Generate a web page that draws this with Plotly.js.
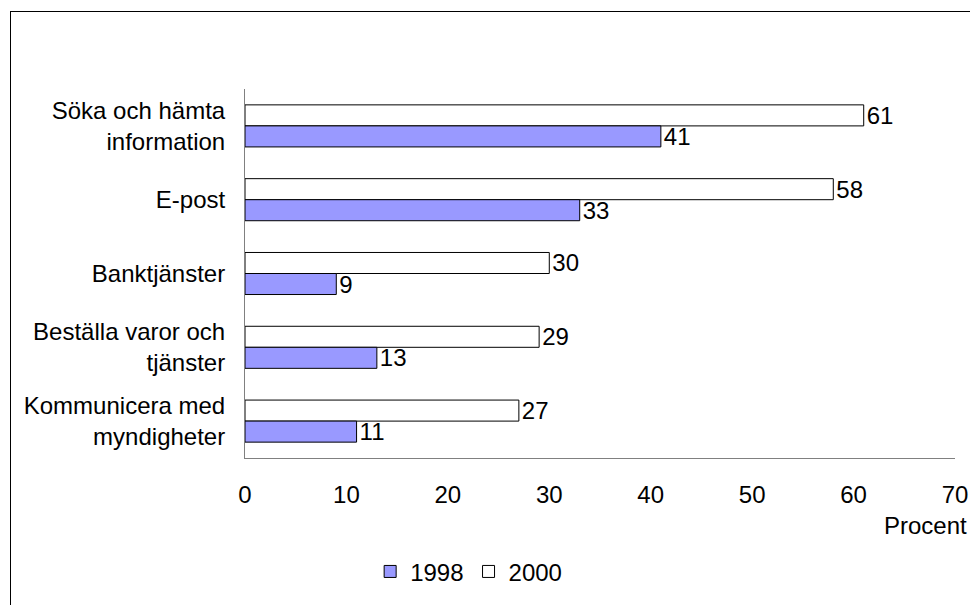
<!DOCTYPE html>
<html>
<head>
<meta charset="utf-8">
<script src="https://cdn.plot.ly/plotly-3.0.1.min.js"></script>
<style>
html,body{margin:0;padding:0;background:#fff;overflow:hidden;}
#frame{position:absolute;left:10px;top:11px;width:1000px;height:700px;border-left:1px solid #000;border-top:1px solid #000;}
#chart{position:absolute;left:0;top:0;width:970px;height:605px;}
</style>
</head>
<body>
<div id="frame"></div>
<div id="chart"></div>
<script>
const categories = ["Söka och hämta<br>information", "E-post", "Banktjänster", "Beställa varor och<br>tjänster", "Kommunicera med<br>myndigheter"];
const values1998 = [41, 33, 9, 13, 11];
const values2000 = [61, 58, 30, 29, 27];
const xTicks = [0, 10, 20, 30, 40, 50, 60, 70];

const font = {family: "Arial, 'Liberation Sans', sans-serif", size: 24, color: "#000"};

const traces = [
  {type: "bar", orientation: "h", name: "2000", y: categories, x: values2000,
   text: values2000.map(String), textposition: "outside", cliponaxis: false, constraintext: "none",
   textfont: font, marker: {color: "#ffffff", line: {color: "#000", width: 1}}},
  {type: "bar", orientation: "h", name: "1998", y: categories, x: values1998,
   text: values1998.map(String), textposition: "outside", cliponaxis: false, constraintext: "none",
   textfont: font, marker: {color: "#9999ff", line: {color: "#000", width: 1}}}
];

const layout = {
  width: 970, height: 605,
  paper_bgcolor: "rgba(0,0,0,0)", plot_bgcolor: "rgba(0,0,0,0)",
  margin: {l: 245, r: 15, t: 89, b: 146},
  font: font,
  barmode: "group", bargap: 0.43, bargroupgap: 0,
  showlegend: true,
  legend: {orientation: "h", x: 0.315, xanchor: "center", y: -0.305, yanchor: "middle",
           traceorder: "reversed", font: font, itemwidth: 30, tracegroupgap: 0},
  xaxis: {range: [0, 70], tickvals: xTicks, showgrid: false, zeroline: false,
          showline: true, linecolor: "#808080", linewidth: 1, ticks: "",
          ticklabelstandoff: 15, tickfont: font, fixedrange: true},
  yaxis: {autorange: "reversed", showgrid: false, zeroline: false, showline: true,
          linecolor: "#808080", linewidth: 1, ticks: "", ticklabelstandoff: 14,
          tickfont: font, fixedrange: true},
  annotations: [
    {text: "Procent", xref: "paper", yref: "paper", x: 1, xshift: 14, xanchor: "right",
     y: -0.182, yanchor: "middle", showarrow: false, font: font},
    {text: "<b>procent</b>", xref: "paper", yref: "paper", x: (150-245)/710, xanchor: "left",
     y: (459-(-3))/370, yanchor: "bottom", showarrow: false, font: font}
  ]
};

Plotly.newPlot("chart", traces, layout, {displayModeBar: false, staticPlot: true});
</script>
</body>
</html>
